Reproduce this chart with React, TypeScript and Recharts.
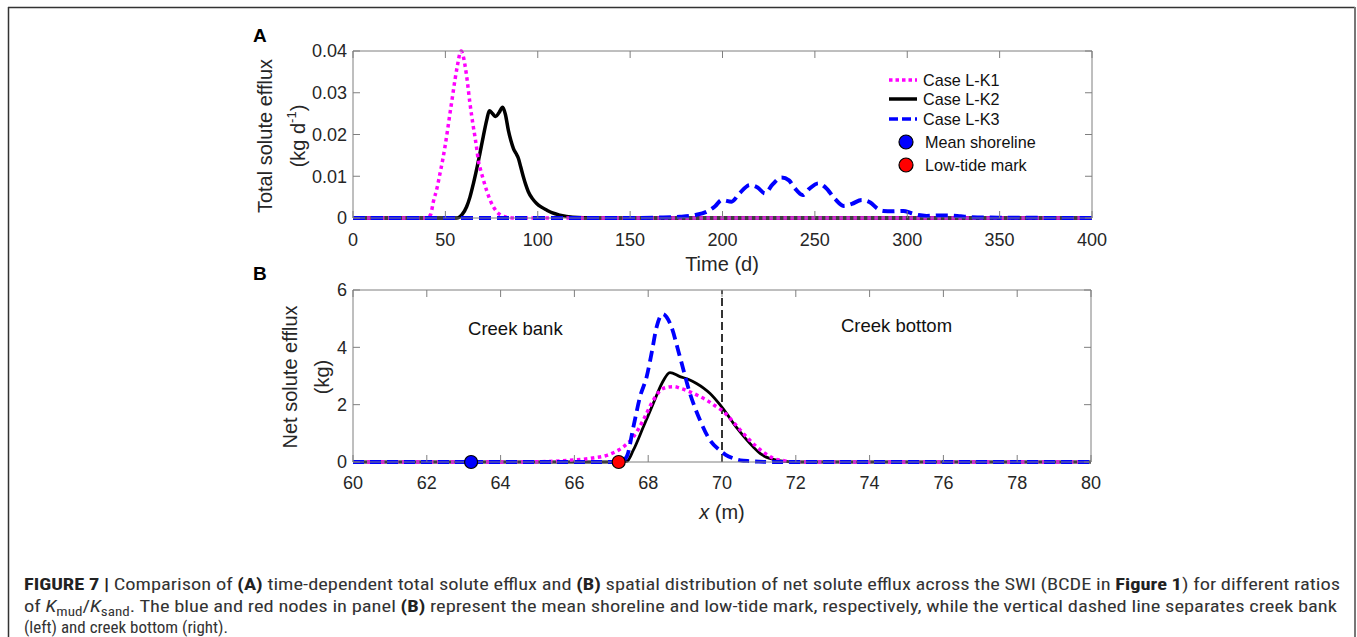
import React from 'react';
import {
  ComposedChart,
  Line,
  Scatter,
  XAxis,
  YAxis,
  ReferenceLine,
  ReferenceDot,
  Legend,
} from 'recharts';

const FONT = '"Liberation Sans", Arial, Helvetica, sans-serif';
const CAPTION_FONT = '"Liberation Sans Narrow", "Roboto Condensed", "Liberation Sans", Arial, sans-serif';
const TEXT_COLOR = '#262626';
const BOX_COLOR = '#7f7f7f';
const MAGENTA = '#ff00ff';
const BLUE = '#0000ff';

// ---------- Panel A: total solute efflux over time ----------
const timeTicks = [0, 50, 100, 150, 200, 250, 300, 350, 400];
const effluxTicks = [0, 0.01, 0.02, 0.03, 0.04];

const k1Days = [0, 40, 42, 43.5, 45.5, 47.1, 48.5, 49.8, 51.2, 52.5, 53.9, 55.2, 56.6, 57.9, 58.6, 59.8, 61.5, 63.3, 65, 66, 67, 67.8, 69.2, 70.6, 72.4, 74.2, 76, 77.8, 80, 83, 88, 400];
const k1Efflux = [0, 0, 0.0008, 0.0039, 0.0072, 0.0107, 0.0138, 0.0171, 0.0211, 0.0251, 0.0292, 0.0331, 0.0367, 0.0395, 0.04, 0.0385, 0.034, 0.0275, 0.0222, 0.0195, 0.0165, 0.0139, 0.0113, 0.0091, 0.0065, 0.0043, 0.0027, 0.0015, 0.0007, 0.0002, 0, 0];

const k2Days = [0, 56, 57.5, 59, 61.5, 63.3, 65.2, 67, 68.7, 70.5, 72.4, 73.8, 75.5, 77.2, 79, 81, 82.5, 84.1, 85.5, 86.8, 88.2, 89.5, 90.8, 92.2, 93.5, 94.9, 97, 99.4, 102, 104.8, 108, 112, 119, 130, 400];
const k2Efflux = [0, 0, 0.0002, 0.0008, 0.0027, 0.005, 0.0083, 0.0118, 0.0155, 0.0195, 0.0235, 0.0257, 0.025, 0.0243, 0.0252, 0.0265, 0.0248, 0.021, 0.0185, 0.0167, 0.0155, 0.0143, 0.0122, 0.0099, 0.008, 0.0063, 0.0047, 0.0035, 0.0026, 0.0019, 0.0012, 0.0007, 0.0002, 0, 0];

const k3Days = [0, 150, 165, 177, 185, 191.4, 196, 199.5, 204.9, 209, 214.8, 219, 223, 227, 232, 236, 239, 243.4, 247, 251.9, 256, 261, 265.5, 270, 275.4, 280, 284, 287, 292, 297.9, 302, 306, 310.5, 317, 323, 329, 335, 345, 400];
const k3Efflux = [0, 0, 0.0001, 0.0003, 0.0007, 0.0015, 0.0028, 0.0043, 0.0039, 0.0058, 0.0079, 0.0073, 0.0059, 0.008, 0.0097, 0.009, 0.0072, 0.0055, 0.007, 0.0083, 0.0072, 0.0045, 0.0029, 0.0034, 0.0043, 0.0037, 0.0022, 0.0017, 0.0016, 0.0017, 0.0012, 0.0007, 0.0005, 0.0006, 0.0006, 0.0004, 0.0002, 0.0001, 0];

// ---------- Panel B: net solute efflux along x ----------
const xTicks = [60, 62, 64, 66, 68, 70, 72, 74, 76, 78, 80];
const netTicks = [0, 2, 4, 6];

const k1X = [60, 64, 65, 65.5, 66, 66.5, 66.9, 67.1, 67.33, 67.6, 67.87, 68.14, 68.41, 68.68, 68.9, 69.13, 69.36, 69.58, 69.8, 70.04, 70.27, 70.49, 70.72, 70.94, 71.17, 71.39, 71.7, 72, 80];
const k1Net = [0, 0, 0.01, 0.03, 0.07, 0.14, 0.24, 0.35, 0.53, 0.88, 1.47, 2.16, 2.57, 2.63, 2.56, 2.45, 2.31, 2.16, 1.97, 1.76, 1.45, 1.12, 0.8, 0.53, 0.3, 0.13, 0.04, 0, 0];

const k2X = [60, 67.2, 67.42, 67.6, 67.87, 68.14, 68.37, 68.59, 68.86, 69.1, 69.31, 69.5, 69.67, 69.95, 70.13, 70.31, 70.49, 70.67, 70.85, 71.03, 71.2, 71.39, 71.7, 72, 80];
const k2Net = [0, 0, 0.02, 0.42, 1.23, 2.05, 2.74, 3.12, 2.98, 2.88, 2.74, 2.58, 2.4, 1.99, 1.68, 1.35, 1.05, 0.77, 0.52, 0.3, 0.17, 0.09, 0.02, 0, 0];

const k3X = [60, 67.25, 67.42, 67.6, 67.78, 67.96, 68.1, 68.23, 68.39, 68.59, 68.86, 69.13, 69.4, 69.67, 69.95, 70.1, 70.3, 70.5, 70.76, 71, 71.5, 80];
const k3Net = [0, 0, 0.19, 1.23, 2.28, 2.98, 3.85, 4.72, 5.16, 4.84, 3.67, 2.4, 1.47, 0.77, 0.4, 0.25, 0.13, 0.06, 0.03, 0.01, 0, 0];

const shorelineX = [63.2];
const shorelineY = [0];
const lowTideX = [67.2];
const lowTideY = [0];

const bankDivideX = 70;
const zoneLabels = ['Creek bank', 'Creek bottom'];
const zoneLabelX = [64.4, 74.73];
const zoneLabelY = [4.65, 4.75];

const legendNames = ['Case L-K1', 'Case L-K2', 'Case L-K3', 'Mean shoreline', 'Low-tide mark'];

const pts = (xs: number[], ys: number[]) => xs.map((x, i) => ({ x, y: ys[i] }));

const tickStyle = { fill: TEXT_COLOR, fontSize: 18, fontFamily: FONT };
const lineStyle = { stroke: BOX_COLOR, strokeWidth: 1 };
const blank = () => '';

const dotShape = (fill: string) => (props: any) => (
  <circle cx={props.cx} cy={props.cy} r={6.5} fill={fill} stroke="#000" strokeWidth={1.2} />
);

function LegendBox() {
  const rowY = [12, 31, 51, 74, 97];
  return (
    <svg width={190} height={110} style={{ display: 'block', overflow: 'visible' }}>
      <line x1={4} x2={32} y1={rowY[0]} y2={rowY[0]} stroke={MAGENTA} strokeWidth={3.5} strokeDasharray="3.5 3" />
      <line x1={4} x2={32} y1={rowY[1]} y2={rowY[1]} stroke="#000" strokeWidth={3.5} />
      <line x1={4} x2={32} y1={rowY[2]} y2={rowY[2]} stroke={BLUE} strokeWidth={3.5} strokeDasharray="9 4" />
      <circle cx={21} cy={rowY[3]} r={7} fill={BLUE} stroke="#000" strokeWidth={1.2} />
      <circle cx={21} cy={rowY[4]} r={7} fill="#ff0000" stroke="#000" strokeWidth={1.2} />
      {legendNames.map((name, i) => (
        <text
          key={name}
          x={i < 3 ? 38 : 40}
          y={rowY[i]}
          dominantBaseline="central"
          fontSize={16.2}
          fontFamily={FONT}
          fill="#111"
        >
          {name}
        </text>
      ))}
    </svg>
  );
}

function PanelA() {
  return (
    <ComposedChart width={1357} height={280} margin={{ top: 50, right: 264, bottom: 32, left: 293 }}>
      <XAxis
        xAxisId="b"
        type="number"
        dataKey="x"
        domain={[0, 400]}
        ticks={timeTicks}
        interval={0}
        tickSize={-7}
        tickMargin={22}
        tick={tickStyle}
        tickLine={lineStyle}
        axisLine={lineStyle}
        height={30}
      />
      <XAxis
        xAxisId="t"
        orientation="top"
        type="number"
        dataKey="x"
        domain={[0, 400]}
        ticks={timeTicks}
        interval={0}
        allowDataOverflow
        tickFormatter={blank}
        tickSize={-7}
        tickLine={lineStyle}
        axisLine={lineStyle}
        height={1}
      />
      <YAxis
        yAxisId="l"
        type="number"
        domain={[0, 0.04]}
        ticks={effluxTicks}
        interval={0}
        tickSize={-7}
        tickMargin={13}
        tick={tickStyle}
        tickLine={lineStyle}
        axisLine={lineStyle}
        width={60}
      />
      <YAxis
        yAxisId="r"
        orientation="right"
        type="number"
        domain={[0, 0.04]}
        ticks={effluxTicks}
        interval={0}
        allowDataOverflow
        tickFormatter={blank}
        tickSize={-7}
        tickLine={lineStyle}
        axisLine={lineStyle}
        width={1}
      />
      <Line xAxisId="b" yAxisId="l" name="Case L-K2" data={pts(k2Days, k2Efflux)} dataKey="y" type="monotone"
        stroke="#000" strokeWidth={3.5} dot={false} activeDot={false} isAnimationActive={false} />
      <Line xAxisId="b" yAxisId="l" name="Case L-K1" data={pts(k1Days, k1Efflux)} dataKey="y" type="monotone"
        stroke={MAGENTA} strokeWidth={3.5} strokeDasharray="3.5 3.5" dot={false} activeDot={false} isAnimationActive={false} />
      <Line xAxisId="b" yAxisId="l" name="Case L-K3" data={pts(k3Days, k3Efflux)} dataKey="y" type="monotone"
        stroke={BLUE} strokeWidth={4} strokeDasharray="12 6" dot={false} activeDot={false} isAnimationActive={false} />
      <Legend
        layout="vertical"
        align="center"
        verticalAlign="middle"
        content={() => <LegendBox />}
        wrapperStyle={{ left: 885, top: 68, width: 190, height: 110 }}
      />
    </ComposedChart>
  );
}

function PanelB() {
  return (
    <ComposedChart width={1357} height={270} margin={{ top: 29, right: 265, bottom: 38, left: 293 }}>
      <XAxis
        xAxisId="b"
        type="number"
        dataKey="x"
        domain={[60, 80]}
        ticks={xTicks}
        interval={0}
        tickSize={-7}
        tickMargin={21}
        tick={tickStyle}
        tickLine={lineStyle}
        axisLine={lineStyle}
        height={30}
      />
      <XAxis
        xAxisId="t"
        orientation="top"
        type="number"
        dataKey="x"
        domain={[60, 80]}
        ticks={xTicks}
        interval={0}
        allowDataOverflow
        tickFormatter={blank}
        tickSize={-7}
        tickLine={lineStyle}
        axisLine={lineStyle}
        height={1}
      />
      <YAxis
        yAxisId="l"
        type="number"
        domain={[0, 6]}
        ticks={netTicks}
        interval={0}
        tickSize={-7}
        tickMargin={13}
        tick={tickStyle}
        tickLine={lineStyle}
        axisLine={lineStyle}
        width={60}
      />
      <YAxis
        yAxisId="r"
        orientation="right"
        type="number"
        domain={[0, 6]}
        ticks={netTicks}
        interval={0}
        allowDataOverflow
        tickFormatter={blank}
        tickSize={-7}
        tickLine={lineStyle}
        axisLine={lineStyle}
        width={1}
      />
      <ReferenceLine xAxisId="b" yAxisId="l" x={bankDivideX} stroke="#333" strokeWidth={2} strokeDasharray="8 4" />
      {zoneLabels.map((label, i) => (
        <ReferenceDot
          key={label}
          xAxisId="b"
          yAxisId="l"
          x={zoneLabelX[i]}
          y={zoneLabelY[i]}
          r={0}
          fill="none"
          stroke="none"
          label={{ value: label, position: 'center', fill: '#111', fontSize: 18.5, fontFamily: FONT }}
        />
      ))}
      <Line xAxisId="b" yAxisId="l" name="Case L-K2" data={pts(k2X, k2Net)} dataKey="y" type="monotone"
        stroke="#000" strokeWidth={2.8} dot={false} activeDot={false} isAnimationActive={false} />
      <Line xAxisId="b" yAxisId="l" name="Case L-K1" data={pts(k1X, k1Net)} dataKey="y" type="monotone"
        stroke={MAGENTA} strokeWidth={3.5} strokeDasharray="3.5 3.5" dot={false} activeDot={false} isAnimationActive={false} />
      <Line xAxisId="b" yAxisId="l" name="Case L-K3" data={pts(k3X, k3Net)} dataKey="y" type="monotone"
        stroke={BLUE} strokeWidth={3.8} strokeDasharray="11 6" dot={false} activeDot={false} isAnimationActive={false} />
      <Scatter xAxisId="b" yAxisId="l" name="Mean shoreline" data={pts(shorelineX, shorelineY)} dataKey="y"
        shape={dotShape(BLUE)} isAnimationActive={false} />
      <Scatter xAxisId="b" yAxisId="l" name="Low-tide mark" data={pts(lowTideX, lowTideY)} dataKey="y"
        shape={dotShape('#ff0000')} isAnimationActive={false} />
    </ComposedChart>
  );
}

type Seg = { t: string; b?: boolean; i?: boolean; sub?: boolean };

const captionLines: Seg[][] = [
  [
    { t: 'FIGURE 7 |', b: true },
    { t: ' Comparison of ' },
    { t: '(A)', b: true },
    { t: ' time-dependent total solute efflux and ' },
    { t: '(B)', b: true },
    { t: ' spatial distribution of net solute efflux across the SWI (BCDE in ' },
    { t: 'Figure 1', b: true },
    { t: ') for different ratios' },
  ],
  [
    { t: 'of ' },
    { t: 'K', i: true },
    { t: 'mud', sub: true },
    { t: '/' },
    { t: 'K', i: true },
    { t: 'sand', sub: true },
    { t: '. The blue and red nodes in panel ' },
    { t: '(B)', b: true },
    { t: ' represent the mean shoreline and low-tide mark, respectively, while the vertical dashed line separates creek bank' },
  ],
  [{ t: '(left) and creek bottom (right).' }],
];
// justified widths for the first two lines; the last line keeps its natural width
const captionWidths: (number | undefined)[] = [1316, 1313, undefined];
const captionBaselines = [590, 612, 633];

function Caption() {
  return (
    <g fontFamily={CAPTION_FONT} fontSize={17} fill="#333">
      {captionLines.map((segs, li) => {
        let shifted = false;
        const w = captionWidths[li];
        return (
          <text
            key={li}
            x={24}
            y={captionBaselines[li]}
            textLength={w}
            lengthAdjust={w ? 'spacingAndGlyphs' : undefined}
          >
            {segs.map((s, si) => {
              let dy = 0;
              if (s.sub && !shifted) { dy = 4; shifted = true; }
              else if (!s.sub && shifted) { dy = -4; shifted = false; }
              return (
                <tspan
                  key={si}
                  dy={dy || undefined}
                  fontWeight={s.b ? 'bold' : undefined}
                  fontStyle={s.i ? 'italic' : undefined}
                  fontSize={s.sub ? 12.5 : undefined}
                  fill={s.b ? '#222' : undefined}
                >
                  {s.t}
                </tspan>
              );
            })}
          </text>
        );
      })}
    </g>
  );
}

function Overlay() {
  return (
    <svg width={1357} height={637} style={{ position: 'absolute', left: 0, top: 0, pointerEvents: 'none' }}>
      {/* figure frame */}
      <line x1={8} y1={7.5} x2={1355} y2={7.5} stroke="#333" strokeWidth={1.5} />
      <line x1={8.5} y1={7} x2={8.5} y2={637} stroke="#333" strokeWidth={1.5} />
      <line x1={1355} y1={7} x2={1355} y2={637} stroke="#777" strokeWidth={2} />

      {/* panel letters */}
      <text x={253} y={42} fontFamily={FONT} fontWeight="bold" fontSize={19} fill="#000">A</text>
      <text x={253} y={280} fontFamily={FONT} fontWeight="bold" fontSize={19} fill="#000">B</text>

      {/* axis titles, panel A */}
      <g fontFamily={FONT} fontSize={20} fill={TEXT_COLOR} textAnchor="middle">
        <text x={265} y={136} transform="rotate(-90 265 136)" dominantBaseline="central">Total solute efflux</text>
        <text x={298} y={136} transform="rotate(-90 298 136)" dominantBaseline="central">
          (kg d<tspan dy={-7} fontSize={13}>-1</tspan><tspan dy={7}>)</tspan>
        </text>
        <text x={722} y={264} dominantBaseline="central">Time (d)</text>

        {/* axis titles, panel B */}
        <text x={290} y={377} transform="rotate(-90 290 377)" dominantBaseline="central">Net solute efflux</text>
        <text x={322} y={377} transform="rotate(-90 322 377)" dominantBaseline="central">(kg)</text>
        <text x={722} y={512} dominantBaseline="central">
          <tspan fontStyle="italic">x</tspan> (m)
        </text>
      </g>

      <Caption />
    </svg>
  );
}

export default function App() {
  return (
    <div style={{ position: 'absolute', left: 0, top: 0, width: 1357, height: 637, background: '#fff', overflow: 'hidden' }}>
      <div style={{ position: 'absolute', left: 0, top: 0 }}>
        <PanelA />
      </div>
      <div style={{ position: 'absolute', left: 0, top: 260 }}>
        <PanelB />
      </div>
      <Overlay />
    </div>
  );
}
